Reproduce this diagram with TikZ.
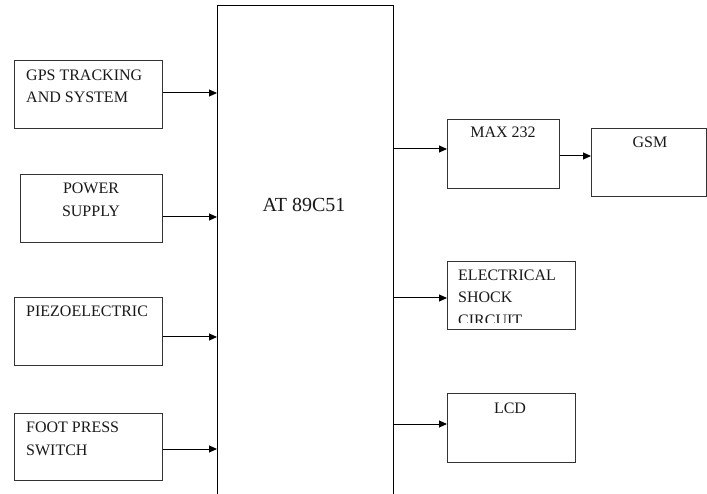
\documentclass[tikz,border=0pt]{standalone}
\usepackage{fontspec}
\setmainfont{Liberation Serif}
\usetikzlibrary{arrows.meta}
\begin{document}
\begin{tikzpicture}[x=1pt,y=-1pt,
  box/.style={draw=black!80, line width=1.1pt, anchor=north west, inner sep=0pt},
  mainbox/.style={draw=black, line width=1.2pt, anchor=north west, inner sep=0pt},
  lbl/.style={font=\fontsize{16}{22.5}\selectfont, inner sep=0pt, text=black!90},
  arr/.style={draw=black, line width=1pt, -{Triangle[length=8pt,width=7pt]}}]
\clip (0,0) rectangle (707,494);
\fill[white] (0,0) rectangle (707,494);
% main controller
\node[mainbox, minimum width=176pt, minimum height=500pt] (main) at (217,5) {};
\node[font=\fontsize{20}{24}\selectfont, inner sep=0pt, anchor=base, text=black!90] (maintxt) at (304,211.7) {AT 89C51};
% left boxes
\node[box, minimum width=148pt, minimum height=68pt] (gps) at (14,60) {};
\node[box, minimum width=142pt, minimum height=68pt] (pow) at (20,174) {};
\node[box, minimum width=148pt, minimum height=68pt] (piezo) at (14,297) {};
\node[box, minimum width=148pt, minimum height=67pt] (foot) at (14,413) {};
% right boxes
\node[box, minimum width=112pt, minimum height=69pt] (max) at (447,119) {};
\node[box, minimum width=115pt, minimum height=68pt] (gsm) at (591,128) {};
\node[box, minimum width=128pt, minimum height=68pt] (elec) at (447,261) {};
\node[box, minimum width=128pt, minimum height=69pt] (lcd) at (447,393) {};
% texts
\node[lbl, anchor=base west] (gpsa) at (26,80.7) {GPS TRACKING};
\node[lbl, anchor=base west] (gpsb) at (26,103) {AND SYSTEM};
\node[lbl, anchor=base] (powa) at (91,194) {POWER};
\node[lbl, anchor=base] (powb) at (91,217) {SUPPLY};
\node[lbl, anchor=base west] (piezot) at (26,316.7) {PIEZOELECTRIC};
\node[lbl, anchor=base west] (foota) at (26,432.7) {FOOT PRESS};
\node[lbl, anchor=base west] (footb) at (26,455) {SWITCH};
\node[lbl, anchor=base] (maxt) at (503,138) {MAX 232};
\node[lbl, anchor=base] (gsmt) at (650,148) {GSM};
\node[lbl, anchor=base] (lcdt) at (510,413) {LCD};
\node[lbl, anchor=base west] (eleca) at (458,280.7) {ELECTRICAL};
\node[lbl, anchor=base west] (elecb) at (458,302.7) {SHOCK};
\begin{scope}
  \clip (448,262) rectangle (574,323);
  \node[lbl, anchor=base west] (elecc) at (458,325.5) {CIRCUIT};
\end{scope}
% connectors
\draw[arr] (gps.east |- 0,93) -- (main.west |- 0,93);
\draw[arr] (pow.east |- 0,217) -- (main.west |- 0,217);
\draw[arr] (piezo.east |- 0,337) -- (main.west |- 0,337);
\draw[arr] (foot.east |- 0,449) -- (main.west |- 0,449);
\draw[arr] (main.east |- 0,149) -- (max.west |- 0,149);
\draw[arr] (max.east |- 0,156) -- (gsm.west |- 0,156);
\draw[arr] (main.east |- 0,298) -- (elec.west |- 0,298);
\draw[arr] (main.east |- 0,424) -- (lcd.west |- 0,424);
\end{tikzpicture}
\end{document}
